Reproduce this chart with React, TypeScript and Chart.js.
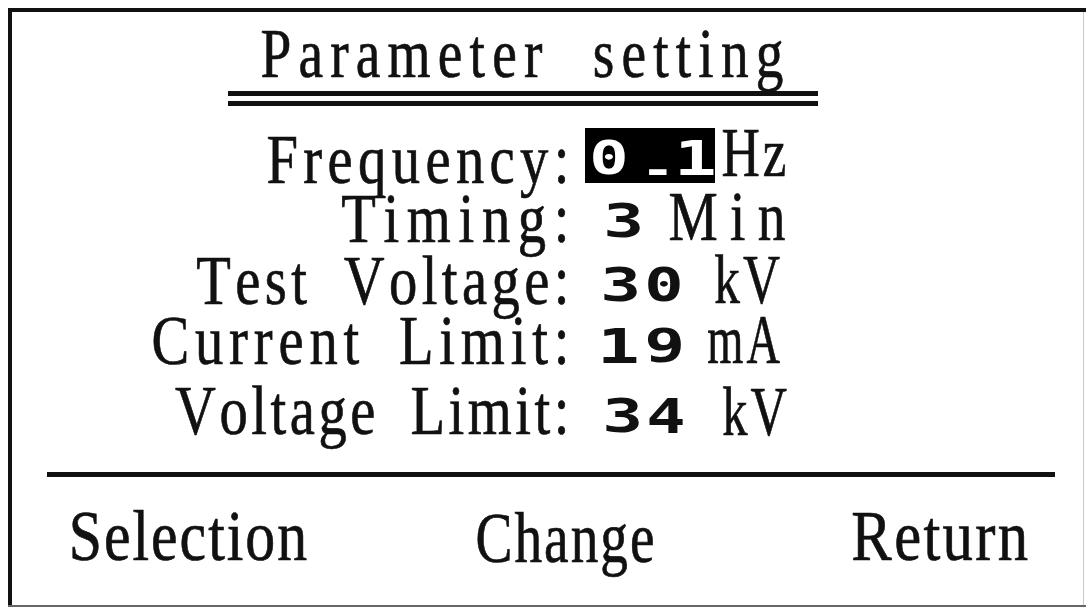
import React, { useEffect, useRef } from "react";
import { Chart, registerables } from "chart.js";

Chart.register(...registerables);

// ---- content ----
const titleText = "Parameter setting";
const rowLabels = ["Frequency:", "Timing:", "Test Voltage:", "Current Limit:", "Voltage Limit:"];
const rowValues = ["0.1", "3", "30", "19", "34"];
const rowUnits = ["Hz", "Min", "kV", "mA", "kV"];
const softKeys = ["Selection", "Change", "Return"];
const selectedRow = 0;

// ---- layout (screen units, mapped through the chart's linear scales) ----
const W = 1090;
const H = 609;
const labelLeft = [268, 342, 197, 153, 175];
const labelRight = 565;
const labelBase = [183, 242, 304, 364, 434];
const valueStart = [592, 606, 603, 603, 605];
const valueBottom = [175, 238, 302, 363, 433];
const unitLeft = [723, 670, 715, 708, 723];
const unitRight = [785, 785, 780, 780, 787];
const unitBase = [176, 240, 303, 363, 435];
const keyLeft = [72, 477, 853];
const keyRight = [307, 653, 1028];
const keyBase = [560, 562, 560];

const SERIF = '"Liberation Serif", "DejaVu Serif", serif';
const MONO = 'bold 48px "DejaVu Sans Mono", "Liberation Mono", monospace';

function fontForCap(ctx: CanvasRenderingContext2D, family: string, cap: number) {
  ctx.save();
  ctx.font = `100px ${family}`;
  const a = ctx.measureText("H").actualBoundingBoxAscent || 66;
  ctx.restore();
  return `${(cap / a) * 100}px ${family}`;
}

// proportional glyphs condensed by sx, wide fixed spaces, tracking solved so the ink spans [left, right]
function fitTracked(
  ctx: CanvasRenderingContext2D, text: string, font: string, sx0: number,
  left: number, right: number, base: number, color: string, spaceAdv = 30, tmin = 2
) {
  ctx.save();
  ctx.font = font;
  ctx.textAlign = "left";
  ctx.textBaseline = "alphabetic";
  const chars = Array.from(text);
  const n = chars.length;
  const ms = chars.map((c) => ctx.measureText(c));
  const advOf = (i: number, sx: number) => (chars[i] === " " ? spaceAdv : ms[i].width * sx);
  const solveT = (sx: number) => {
    const o = left + ms[0].actualBoundingBoxLeft * sx;
    let sum = 0;
    for (let j = 0; j < n - 1; j++) sum += advOf(j, sx);
    return n > 1 ? (right - o - ms[n - 1].actualBoundingBoxRight * sx - sum) / (n - 1) : 0;
  };
  let sx = sx0;
  let t = solveT(sx);
  if (t < tmin) {
    let glyph = ms[0].actualBoundingBoxLeft + ms[n - 1].actualBoundingBoxRight;
    let spaces = 0;
    for (let j = 0; j < n - 1; j++) {
      if (chars[j] === " ") spaces += spaceAdv;
      else glyph += ms[j].width;
    }
    t = tmin;
    sx = (right - left - (n - 1) * t - spaces) / glyph;
  }
  const o = left + ms[0].actualBoundingBoxLeft * sx;
  ctx.fillStyle = color;
  ctx.strokeStyle = color;
  ctx.lineWidth = 0.7;
  let x = o;
  chars.forEach((c, i) => {
    if (c !== " ") {
      ctx.save();
      ctx.translate(x, base);
      ctx.scale(sx, 1);
      ctx.fillText(c, 0, 0);
      ctx.strokeText(c, 0, 0);
      ctx.restore();
    }
    x += advOf(i, sx) + t;
  });
  ctx.restore();
}

function fitBox(ctx: CanvasRenderingContext2D, text: string, font: string, left: number, top: number, right: number, bottom: number, color: string) {
  ctx.save();
  ctx.font = font;
  ctx.textAlign = "left";
  ctx.textBaseline = "alphabetic";
  const m = ctx.measureText(text);
  const inkW = m.actualBoundingBoxLeft + m.actualBoundingBoxRight;
  const inkH = m.actualBoundingBoxAscent + m.actualBoundingBoxDescent;
  const sx = (right - left) / inkW;
  const sy = (bottom - top) / inkH;
  ctx.translate(left, top);
  ctx.scale(sx, sy);
  ctx.fillStyle = color;
  ctx.fillText(text, m.actualBoundingBoxLeft, m.actualBoundingBoxAscent);
  ctx.restore();
}

const screenPlugin = {
  id: "lcdScreen",
  afterDraw(chart: any) {
    const ctx: CanvasRenderingContext2D = chart.ctx;
    const xs = chart.scales.x;
    const ys = chart.scales.y;
    const X = (v: number) => xs.getPixelForValue(v);
    const Y = (v: number) => ys.getPixelForValue(v);
    const ink = "#111111";

    ctx.save();
    ctx.fillStyle = "#ffffff";
    ctx.fillRect(0, 0, chart.width, chart.height);

    // frame
    ctx.fillStyle = ink;
    ctx.fillRect(X(8), Y(8), X(1086) - X(8), 4);
    ctx.fillRect(X(8), Y(8), 4, Y(607) - Y(8));
    ctx.fillStyle = "#666666";
    ctx.fillRect(X(8), Y(605), X(1086) - X(8), 2);
    ctx.fillStyle = "#c8c8c8";
    ctx.fillRect(X(1083), Y(12), 1, Y(605) - Y(12));

    const titleFont = fontForCap(ctx, SERIF, 45);
    const rowFont = fontForCap(ctx, SERIF, 46);
    const unitFont = fontForCap(ctx, SERIF, 45);
    const keyFont = fontForCap(ctx, SERIF, 47);

    // title + double underline
    fitTracked(ctx, titleText, titleFont, 0.8, X(262), X(783), Y(77), ink, 36);
    ctx.fillStyle = ink;
    ctx.fillRect(X(228), Y(91), X(818) - X(228), 5);
    ctx.fillRect(X(228), Y(101), X(818) - X(228), 5);

    rowLabels.forEach((lab, i) => {
      fitTracked(ctx, lab, rowFont, 0.8, X(labelLeft[i]), X(labelRight), Y(labelBase[i]), ink, 28);

      const val = rowValues[i];
      const selected = i === selectedRow;
      if (selected) {
        ctx.fillStyle = "#000000";
        ctx.fillRect(X(585), Y(128), X(715) - X(585), Y(183) - Y(128));
      }
      const col = selected ? "#ffffff" : "#111111";
      const bottom = valueBottom[i];
      let x = valueStart[i];
      for (const ch of val) {
        if (ch === ".") {
          fitBox(ctx, ".", MONO, X(x + 12), Y(bottom - 6), X(x + 32), Y(bottom), col);
        } else {
          fitBox(ctx, ch, MONO, X(x), Y(bottom - 35), X(x + 34), Y(bottom), col);
        }
        x += 44;
      }

      fitTracked(ctx, rowUnits[i], unitFont, 0.8, X(unitLeft[i]), X(unitRight[i]), Y(unitBase[i]), ink, 28, 3);
    });

    ctx.fillStyle = ink;
    ctx.fillRect(X(47), Y(472), X(1055) - X(47), 5);

    softKeys.forEach((k, i) => {
      fitTracked(ctx, k, keyFont, 0.84, X(keyLeft[i]), X(keyRight[i]), Y(keyBase[i]), ink);
    });
    ctx.restore();
  },
};

export default function App() {
  const ref = useRef<HTMLCanvasElement | null>(null);

  useEffect(() => {
    document.body.style.margin = "0";
    const canvas = ref.current;
    if (!canvas) return;
    const chart = new Chart(canvas, {
      type: "scatter",
      data: { datasets: [{ data: [], pointRadius: 0 }] },
      options: {
        responsive: false,
        maintainAspectRatio: false,
        devicePixelRatio: 1,
        animation: false,
        layout: { padding: 0 },
        scales: {
          x: { type: "linear", min: 0, max: W, display: false },
          y: { type: "linear", min: 0, max: H, reverse: true, display: false },
        },
        plugins: { legend: { display: false }, tooltip: { enabled: false }, title: { display: false } },
      },
      plugins: [screenPlugin],
    });
    return () => chart.destroy();
  }, []);

  return (
    <div style={{ width: W, height: H, background: "#fff" }}>
      <canvas ref={ref} width={W} height={H} style={{ display: "block" }} />
    </div>
  );
}
